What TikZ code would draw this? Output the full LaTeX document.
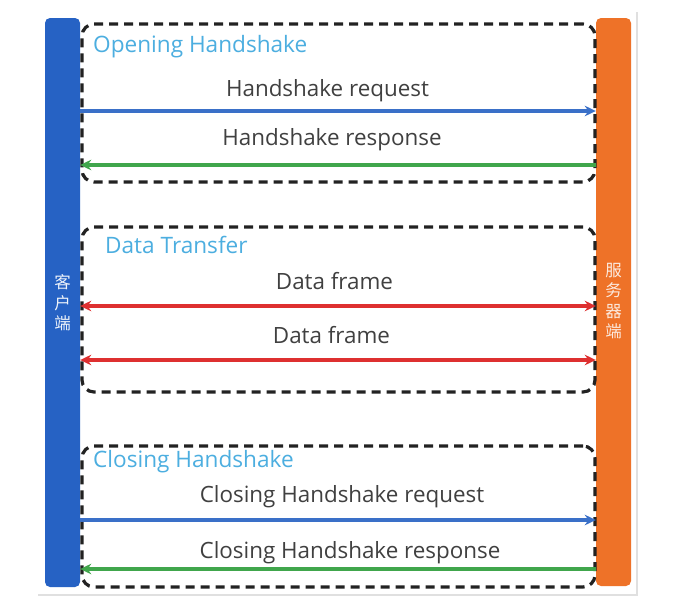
\documentclass[tikz,border=0pt]{standalone}
\usepackage{fontspec}
\setmainfont{Open Sans}
\newfontfamily\cjk{Noto Sans CJK SC}
\usetikzlibrary{arrows.meta}
\definecolor{barblue}{RGB}{38,98,196}
\definecolor{barorange}{RGB}{238,114,40}
\definecolor{reqblue}{RGB}{58,112,200}
\definecolor{respgreen}{RGB}{64,166,76}
\definecolor{framered}{RGB}{222,48,48}
\definecolor{headblue}{RGB}{76,174,224}
\definecolor{txtgray}{RGB}{64,64,64}
\definecolor{boxblack}{RGB}{34,34,34}
\tikzset{
  bar/.style={draw=none, rounded corners=5pt, minimum width=35pt, inner sep=0pt},
  phase/.style={draw=boxblack, line width=3.2pt, dash pattern=on 9pt off 6pt, rounded corners=12pt, minimum width=513pt, inner sep=0pt},
  head/.style={text=headblue, anchor=base west, inner sep=0pt, font=\fontsize{22.6}{26}\selectfont},
  msg/.style={text=txtgray, anchor=base, inner sep=0pt, font=\fontsize{22.4}{26}\selectfont},
  cjklabel/.style={align=center, inner sep=0pt, font=\cjk\fontsize{16.5}{20.5}\selectfont},
  arr/.style={line width=3.1pt, -{Stealth[length=11pt,width=10.5pt,inset=3.5pt]}},
  darr/.style={line width=3.1pt, {Stealth[length=11pt,width=10.5pt,inset=3.5pt]}-{Stealth[length=11pt,width=10.5pt,inset=3.5pt]}},
}
\begin{document}
\begin{tikzpicture}[x=1pt,y=-1pt]
\useasboundingbox (0,0) rectangle (694,608);
\fill[white] (0,0) rectangle (694,608);
\draw[black!12, line width=1.2pt] (38,595) -- (637,595) -- (637,12);
% bars
\node[bar, fill=barblue, minimum height=569pt] (client) at (62.5,302.5) {};
\node[bar, fill=barorange, minimum height=568pt] (server) at (613.5,302) {};
\node[cjklabel, text=white!92!barblue] (clabel) at (62.5,303) {客\\户\\端};
\node[cjklabel, text=white!85!barorange] (slabel) at (613.5,301) {服\\务\\器\\端};
% phase boxes
\node[phase, minimum height=158pt] (open) at (338.5,103) {};
\node[phase, minimum height=165pt] (data) at (338.5,309.5) {};
\node[phase, minimum height=141pt] (close) at (338.5,516.5) {};
% headings
\node[head] (hopen) at (93,52) {Opening Handshake};
\node[head] (hdata) at (105,253) {Data Transfer};
\node[head] (hclose) at (93,467) {Closing Handshake};
% messages
\node[msg] (m1) at (327.5,96) {Handshake request};
\node[msg] (m2) at (332,145) {Handshake response};
\node[msg] (m3) at (334.5,289) {Data frame};
\node[msg] (m4) at (331.5,343) {Data frame};
\node[msg] (m5) at (342,502) {Closing Handshake request};
\node[msg] (m6) at (350,558) {Closing Handshake response};
% connectors
\draw[arr, reqblue] (client.east |- 0,111) -- (server.west |- 0,111);
\draw[arr, respgreen] (server.west |- 0,165) -- (client.east |- 0,165);
\draw[darr, framered] (client.east |- 0,306) -- (server.west |- 0,306);
\draw[darr, framered] (client.east |- 0,360) -- (server.west |- 0,360);
\draw[arr, reqblue] (client.east |- 0,520) -- (server.west |- 0,520);
\draw[arr, respgreen] (server.west |- 0,569) -- (client.east |- 0,569);
\end{tikzpicture}
\end{document}
